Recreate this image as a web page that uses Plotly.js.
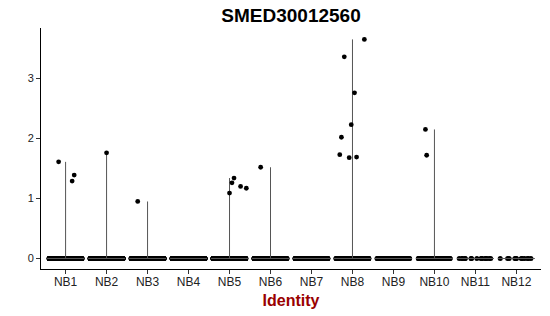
<!DOCTYPE html>
<html>
<head>
<meta charset="utf-8">
<script src="https://cdn.plot.ly/plotly-3.0.1.min.js"></script>
<style>html,body{margin:0;padding:0;background:#fff;}#chart{width:550px;height:316px;}</style>
</head>
<body>
<div id="chart"></div>
<script>
// Categories (clusters)
const categories = ["NB1","NB2","NB3","NB4","NB5","NB6","NB7","NB8","NB9","NB10","NB11","NB12"];
// Estimated number of cells with zero expression per cluster
const zeroCounts = [400, 400, 350, 350, 350, 220, 220, 260, 90, 60, 16, 12];
// Non-zero expression points: cluster, jitter offset, value
const ptCluster = ["NB1","NB1","NB1","NB2","NB3","NB5","NB5","NB5","NB5","NB5","NB6",
                   "NB8","NB8","NB8","NB8","NB8","NB8","NB8","NB8","NB10","NB10"];
const ptJitter  = [-0.17, 0.16, 0.21, 0.0, -0.24, 0.0, 0.06, 0.11, 0.27, 0.41, -0.24,
                   0.29, -0.2, 0.05, -0.03, -0.27, -0.31, -0.08, 0.1, -0.22, -0.19];
const ptValue   = [1.61, 1.29, 1.39, 1.76, 0.95, 1.09, 1.26, 1.34, 1.20, 1.17, 1.52,
                   3.65, 3.36, 2.76, 2.23, 2.02, 1.73, 1.68, 1.69, 2.15, 1.72];
const yTicks = [0, 1, 2, 3];

const idx = {};
categories.forEach((c, i) => idx[c] = i);

// Violin outlines (degenerate: line from 0 to max, flat base at 0)
const vx = [], vy = [];
categories.forEach((c, i) => {
  let mx = 0;
  ptCluster.forEach((pc, k) => { if (pc === c && ptValue[k] > mx) mx = ptValue[k]; });
  vx.push(i - 0.45, i + 0.45, null);
  vy.push(0, 0, null);
  if (mx > 0) { vx.push(i, i, null); vy.push(0, mx, null); }
});

const traces = [];
traces.push({
  type: "scatter", mode: "lines", x: vx, y: vy,
  line: {color: "#555", width: 1}, hoverinfo: "skip", showlegend: false
});

// Zero-valued cells, jittered horizontally by the library
const zx = [], zy = [];
categories.forEach((c, i) => {
  for (let k = 0; k < zeroCounts[i]; k++) { zx.push(i); zy.push(0); }
});
traces.push({
  type: "box", x: zx, y: zy, boxpoints: "all", jitter: 0.9, pointpos: 0,
  width: 0.9, fillcolor: "rgba(0,0,0,0)", line: {width: 0, color: "rgba(0,0,0,0)"},
  marker: {color: "#000", size: 5}, showlegend: false, hoverinfo: "skip"
});

// Non-zero cells
traces.push({
  type: "scatter", mode: "markers",
  x: ptCluster.map((c, k) => idx[c] + ptJitter[k]), y: ptValue,
  marker: {color: "#000", size: 4.8}, showlegend: false
});

const font = "Liberation Sans, Arial, Helvetica, sans-serif";
const layout = {
  width: 550, height: 316,
  margin: {l: 41, r: 9, t: 28, b: 47},
  paper_bgcolor: "#fff", plot_bgcolor: "#fff",
  font: {family: font, size: 12, color: "#222"},
  title: {text: "<b>SMED30012560</b>", font: {family: font, size: 19, color: "#000"},
          x: 0.5, xref: "paper", y: 0.95, yref: "container", yanchor: "middle"},
  xaxis: {
    range: [-0.6, 11.6], tickmode: "array", tickvals: categories.map((c, i) => i),
    ticktext: categories, showgrid: false, zeroline: false,
    showline: true, linecolor: "#000", linewidth: 1,
    ticks: "outside", ticklen: 4, tickcolor: "#333", ticklabelstandoff: -2,
    tickfont: {size: 12, color: "#222"},
    title: {text: "<b>Identity</b>", font: {size: 16, color: "#990000"}, standoff: 6}
  },
  yaxis: {
    range: [-0.175, 3.84], tickmode: "array", tickvals: yTicks,
    showgrid: false, zeroline: false,
    showline: true, linecolor: "#000", linewidth: 1,
    ticks: "outside", ticklen: 4, tickcolor: "#333",
    tickfont: {size: 11, color: "#222"}
  }
};

Plotly.newPlot("chart", traces, layout, {staticPlot: true, displayModeBar: false});
</script>
</body>
</html>
